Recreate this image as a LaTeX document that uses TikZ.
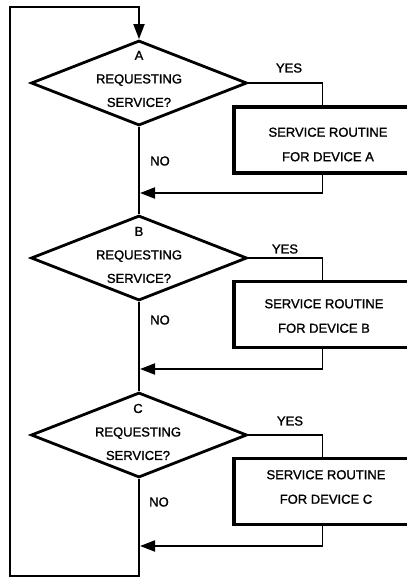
\documentclass[tikz,border=0pt]{standalone}
\usepackage{fontspec}
\setmainfont{Liberation Sans}
\newfontfamily\medfont{Liberation Sans}[FakeBold=1.3]
\usetikzlibrary{shapes.geometric,arrows.meta}
\begin{document}
\begin{tikzpicture}[x=1pt,y=-1pt,
  dec/.style={draw, shape=diamond, line width=2.8pt, minimum width=216pt, minimum height=85pt, inner sep=0pt},
  srv/.style={draw, line width=3.4pt, minimum width=177pt, minimum height=66pt, inner sep=0pt},
  txt/.style={font=\medfont\fontsize{13}{23.5}\selectfont, align=center, inner sep=0pt},
  btxt/.style={font=\medfont\fontsize{13}{24.5}\selectfont, align=center, inner sep=0pt},
  lbl/.style={font=\medfont\fontsize{13}{15}\selectfont, inner sep=0pt},
  conn/.style={line width=1.9pt},
  arr/.style={conn, -{Triangle[length=15pt,width=11pt]}},
]
\useasboundingbox (0,0) rectangle (407,579);
\begin{scope}
\clip (0,0) rectangle (407,579);
% decisions
\node[dec] (dA) at (139,83) {};
\node[dec] (dB) at (139,258) {};
\node[dec] (dC) at (139,435) {};
\node[txt] (tA) at (139,79) {A\\REQUESTING\\SERVICE?};
\node[txt] (tB) at (139,255) {B\\REQUESTING\\SERVICE?};
\node[txt] (tC) at (138,432) {C\\REQUESTING\\SERVICE?};
% service boxes
\node[srv] (bA) at (322.5,140) {};
\node[srv] (bB) at (322.5,314.5) {};
\node[srv] (bC) at (322.5,491.5) {};
\node[btxt] (sA) at (328,144.5) {SERVICE ROUTINE\\FOR DEVICE A};
\node[btxt] (sB) at (324,316) {SERVICE ROUTINE\\FOR DEVICE B};
\node[btxt] (sC) at (326,487) {SERVICE ROUTINE\\FOR DEVICE C};
% labels
\node[lbl] (yA) at (289,68) {YES};
\node[lbl] (yB) at (285,249) {YES};
\node[lbl] (yC) at (290,421) {YES};
\node[lbl] (nA) at (160,161) {NO};
\node[lbl] (nB) at (160,320) {NO};
\node[lbl] (nC) at (159,502) {NO};
% junctions
\coordinate (jA) at (140,193);
\coordinate (jB) at (140,369);
\coordinate (jC) at (140,546);
\coordinate (bl) at (139,576);
\coordinate (br) at (10,576);
\coordinate (tl) at (10,7);
\coordinate (tr) at (139,7);
% connectors
\draw[conn] (dA.east) -| (bA.north);
\draw[conn] (dB.east) -| (bB.north);
\draw[conn] (dC.east) -| (bC.north);
\draw[arr] (bA.south) |- (jA);
\draw[arr] (bB.south) |- (jB);
\draw[arr] (bC.south) |- (jC);
\draw[conn] (dA.south) -- (dB.north);
\draw[conn] (dB.south) -- (dC.north);
\draw[arr] (dC.south) -- (bl) -- (br) -- (tl) -- (tr) -- (dA.north);
\end{scope}
\end{tikzpicture}
\end{document}
